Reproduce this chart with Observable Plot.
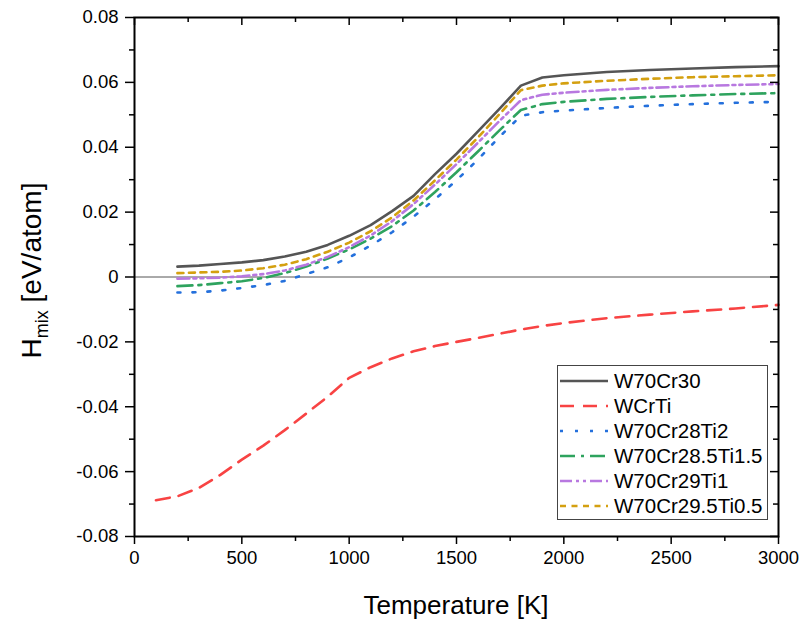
<!DOCTYPE html>
<html><head><meta charset="utf-8">
<script src="https://cdn.jsdelivr.net/npm/d3@7"></script>
<script src="https://cdn.jsdelivr.net/npm/@observablehq/plot@0.6"></script>
<style>
body{margin:0;background:#fff}
#wrap{position:relative;width:803px;height:621px;font-family:"Liberation Sans",Arial,sans-serif;color:#000}
#legend{position:absolute;background:#fff;border:1px solid #444;box-sizing:border-box;padding:2px 0 0 1px}
#legend .row{display:flex;align-items:center;height:25px;font-size:20.5px;white-space:nowrap}
#legend svg{margin-right:5px;flex:none}
</style>
</head><body><div id="wrap"></div>
<script>
// ---- data ----
const temps = [200,300,400,500,600,700,800,900,1000,1100,1200,1300,1400,1500,1600,1700,1800,1900,2000,2200,2400,2600,2800,3000];
const tempsWCrTi = [100,200,300,400,500,600,700,800,900,1000,1100,1200,1300,1400,1500,1600,1700,1800,1900,2000,2200,2400,2600,2800,3000];
const hW70Cr30      = [0.0032,0.0035,0.0040,0.0045,0.0052,0.0063,0.0078,0.0099,0.0127,0.0160,0.0203,0.0250,0.0317,0.0380,0.0449,0.0518,0.0590,0.0615,0.0622,0.0632,0.0638,0.0643,0.0647,0.0650];
const hWCrTi        = [-0.0688,-0.0676,-0.0650,-0.0610,-0.0563,-0.0520,-0.0472,-0.0421,-0.0369,-0.0311,-0.0278,-0.0251,-0.0229,-0.0213,-0.0200,-0.0188,-0.0175,-0.0162,-0.0151,-0.0142,-0.0127,-0.0116,-0.0106,-0.0097,-0.0086];
const hW70Cr28Ti2   = [-0.0048,-0.0047,-0.0042,-0.0034,-0.0025,-0.0012,0.0009,0.0030,0.0060,0.0097,0.0138,0.0186,0.0240,0.0298,0.0362,0.0432,0.0497,0.0508,0.0513,0.0521,0.0528,0.0533,0.0537,0.0540];
const hW70Cr285Ti15 = [-0.0028,-0.0025,-0.0019,-0.0013,-0.0003,0.0012,0.0032,0.0057,0.0085,0.0118,0.0157,0.0205,0.0262,0.0323,0.0387,0.0452,0.0515,0.0533,0.0540,0.0549,0.0555,0.0560,0.0564,0.0567];
const hW70Cr29Ti1   = [-0.0005,-0.0004,-0.0002,0.0002,0.0009,0.0020,0.0038,0.0062,0.0092,0.0128,0.0172,0.0225,0.0285,0.0348,0.0414,0.0481,0.0545,0.0562,0.0568,0.0577,0.0583,0.0588,0.0592,0.0595];
const hW70Cr295Ti05 = [0.0012,0.0014,0.0016,0.0020,0.0027,0.0038,0.0055,0.0078,0.0106,0.0141,0.0184,0.0236,0.0298,0.0362,0.0430,0.0502,0.0576,0.0590,0.0597,0.0605,0.0611,0.0616,0.0619,0.0622];

const xMajor = [0,500,1000,1500,2000,2500,3000];
const xMinor = [250,750,1250,1750,2250,2750];
const yMajor = [-0.08,-0.06,-0.04,-0.02,0,0.02,0.04,0.06,0.08];
const yMinor = [-0.07,-0.05,-0.03,-0.01,0.01,0.03,0.05,0.07];

const series = [
  {name:"W70Cr30",        t:temps,      h:hW70Cr30,      color:"#555555", dash:null,              w:2.6},
  {name:"WCrTi",          t:tempsWCrTi, h:hWCrTi,        color:"#f84343", dash:"14,9",            w:2.6},
  {name:"W70Cr28Ti2",     t:temps,      h:hW70Cr28Ti2,   color:"#2470dc", dash:"3,12",            w:2.6},
  {name:"W70Cr28.5Ti1.5", t:temps,      h:hW70Cr285Ti15, color:"#2ea35e", dash:"15,6,3,6",        w:2.6},
  {name:"W70Cr29Ti1",     t:temps,      h:hW70Cr29Ti1,   color:"#b878e0", dash:"12,4,3,4,3,4",    w:2.6},
  {name:"W70Cr29.5Ti0.5", t:temps,      h:hW70Cr295Ti05, color:"#d4a010", dash:"6,5.5",           w:2.6}
];

// ---- layout ----
const W = 803, H = 621;
const mL = 134, mR = 25, mT = 17, mB = 85;
const plotW = W - mL - mR, plotH = H - mT - mB;
const font = "'Liberation Sans', Arial, sans-serif";
const fmtY = d => d === 0 ? "0" : d.toFixed(2);

const lineMarks = series.map(s => Plot.line(
  s.t.map((t, i) => ({T: t, H: s.h[i]})),
  {x: "T", y: "H", stroke: s.color, strokeWidth: s.w, strokeDasharray: s.dash || undefined, strokeLinejoin: "round"}
));

const chart = Plot.plot({
  width: W, height: H,
  marginLeft: mL, marginRight: mR, marginTop: mT, marginBottom: mB,
  style: {fontFamily: font, fontSize: "18.5px", color: "#000", background: "#fff", overflow: "visible"},
  x: {domain: [0, 3000], label: null},
  y: {domain: [-0.08, 0.08], label: null},
  marks: [
    Plot.ruleY([0], {stroke: "#555", strokeWidth: 1}),
    ...lineMarks,
    Plot.frame({stroke: "#000", strokeWidth: 2}),
    Plot.axisX(xMajor, {anchor: "bottom", tickSize: 8, tickPadding: 6, strokeWidth: 1.5, tickFormat: d => String(d), fontSize: 18.5, label: null}),
    Plot.axisX(xMinor, {anchor: "bottom", tickSize: 5, strokeWidth: 1.5, tickFormat: () => "", label: null}),
    Plot.axisY(yMajor, {anchor: "left", tickSize: 9, tickPadding: 7, strokeWidth: 1.5, tickFormat: fmtY, fontSize: 18.5, label: null}),
    Plot.axisY(yMinor, {anchor: "left", tickSize: 5, strokeWidth: 1.5, tickFormat: () => "", label: null}),
    Plot.ruleX(xMajor, {stroke: "#000", strokeWidth: 1.5, insetBottom: plotH - 8}),
    Plot.ruleX(xMinor, {stroke: "#000", strokeWidth: 1.5, insetBottom: plotH - 5}),
    Plot.ruleY(yMajor, {stroke: "#000", strokeWidth: 1.5, insetLeft: plotW - 8}),
    Plot.ruleY(yMinor, {stroke: "#000", strokeWidth: 1.5, insetLeft: plotW - 5})
  ]
});

const wrap = document.getElementById("wrap");
wrap.appendChild(chart);

// axis titles
const svg = d3.select(chart);
svg.append("text")
  .attr("x", mL + plotW / 2).attr("y", H - 7)
  .attr("text-anchor", "middle").attr("font-size", 26).attr("font-family", font).attr("fill", "#000")
  .text("Temperature [K]");
const yt = svg.append("text")
  .attr("transform", `translate(41,${mT + plotH / 2 - 6}) rotate(-90)`)
  .attr("text-anchor", "middle").attr("font-size", 28).attr("font-family", font).attr("fill", "#000");
yt.append("tspan").text("H");
yt.append("tspan").attr("font-size", 18).attr("dy", 7).text("mix");
yt.append("tspan").attr("dy", -7).text(" [eV/atom]");

// legend
const leg = document.createElement("div");
leg.id = "legend";
Object.assign(leg.style, {left: "557px", top: "365px", width: "211px", height: "155px"});
for (const s of series) {
  const row = document.createElement("div");
  row.className = "row";
  row.innerHTML = `<svg width="50" height="10"><line x1="1" y1="5" x2="49" y2="5" stroke="${s.color}" stroke-width="${s.w}" ${s.dash ? `stroke-dasharray="${s.dash}"` : ""}/></svg><span>${s.name}</span>`;
  leg.appendChild(row);
}
wrap.appendChild(leg);
</script>
</body></html>
